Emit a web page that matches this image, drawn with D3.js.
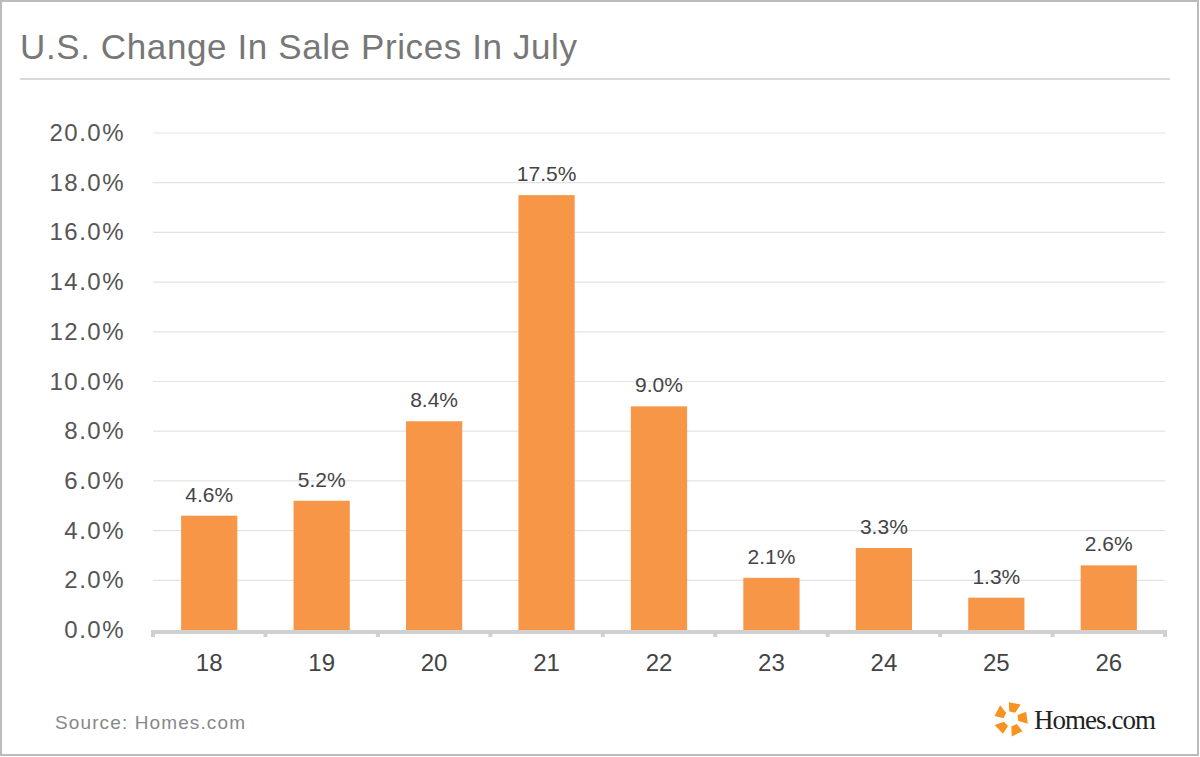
<!DOCTYPE html>
<html><head><meta charset="utf-8">
<script src="https://cdn.jsdelivr.net/npm/d3@7"></script>
<style>body{margin:0;background:#fff;font-family:Arial,"Liberation Sans",sans-serif}</style>
</head><body><svg id="c" width="1200" height="757"></svg>
<script>
const categories=["18","19","20","21","22","23","24","25","26"];
const values=[4.6,5.2,8.4,17.5,9.0,2.1,3.3,1.3,2.6];
const yTicks=[0,2,4,6,8,10,12,14,16,18,20];
const svg=d3.select("#c");
svg.append("rect").attr("x",1).attr("y",1).attr("width",1197).attr("height",754).attr("fill","#fff").attr("stroke","#bbb").attr("stroke-width",2);
svg.append("text").attr("x",20).attr("y",59).attr("font-size",35).attr("fill","#777").attr("textLength",557).text("U.S. Change In Sale Prices In July");
svg.append("line").attr("x1",20).attr("x2",1170).attr("y1",79).attr("y2",79).attr("stroke","#ccc").attr("stroke-width",1.5);
const x=d3.scaleBand().domain(categories).range([153,1165]).paddingInner(0.5).paddingOuter(0.25);
const y=d3.scaleLinear().domain([0,20]).range([630,133]);
const g=svg.append("g");
g.selectAll(".grid").data(yTicks.slice(1)).join("line").attr("x1",153).attr("x2",1165).attr("y1",d=>y(d)).attr("y2",d=>y(d)).attr("stroke","#e3e3e3").attr("stroke-width",1.2);
g.selectAll(".yl").data(yTicks).join("text").attr("x",125).attr("y",d=>y(d)+8).attr("text-anchor","end").attr("font-size",24).attr("letter-spacing",1.5).attr("fill","#555").text(d=>d.toFixed(1)+"%");
g.selectAll(".bar").data(values).join("rect").attr("x",(d,i)=>x(categories[i])).attr("width",x.bandwidth()).attr("y",d=>y(d)).attr("height",d=>y(0)-y(d)).attr("fill","#f79646");
g.selectAll(".vl").data(values).join("text").attr("x",(d,i)=>x(categories[i])+x.bandwidth()/2).attr("y",d=>y(d)-14).attr("text-anchor","middle").attr("font-size",21).attr("fill","#444").text(d=>d.toFixed(1)+"%");
svg.append("line").attr("x1",153).attr("x2",1165).attr("y1",632).attr("y2",632).attr("stroke","#d0d0d0").attr("stroke-width",4);
const step=(1165-153)/categories.length;
g.selectAll(".tk").data(d3.range(categories.length+1)).join("line").attr("x1",d=>153+d*step).attr("x2",d=>153+d*step).attr("y1",630).attr("y2",637).attr("stroke","#d0d0d0").attr("stroke-width",4);
g.selectAll(".xl").data(categories).join("text").attr("x",d=>x(d)+x.bandwidth()/2).attr("y",671).attr("text-anchor","middle").attr("font-size",24).attr("fill","#444").text(d=>d);
svg.append("text").attr("x",55).attr("y",729).attr("font-size",19).attr("fill","#888").attr("textLength",190).text("Source: Homes.com");
const lg=svg.append("g").attr("transform","translate(1011,719)");
for(let i=0;i<5;i++){lg.append("path").attr("d","M-5,-16 L7,-16 L3,-7 L-3,-7 Z").attr("fill","#f7931e").attr("transform",`rotate(${i*72+10})`);}
svg.append("text").attr("x",1034).attr("y",729).attr("font-family","'Liberation Serif',serif").attr("font-size",27).attr("fill","#222").attr("textLength",122).text("Homes.com");
</script></body></html>
